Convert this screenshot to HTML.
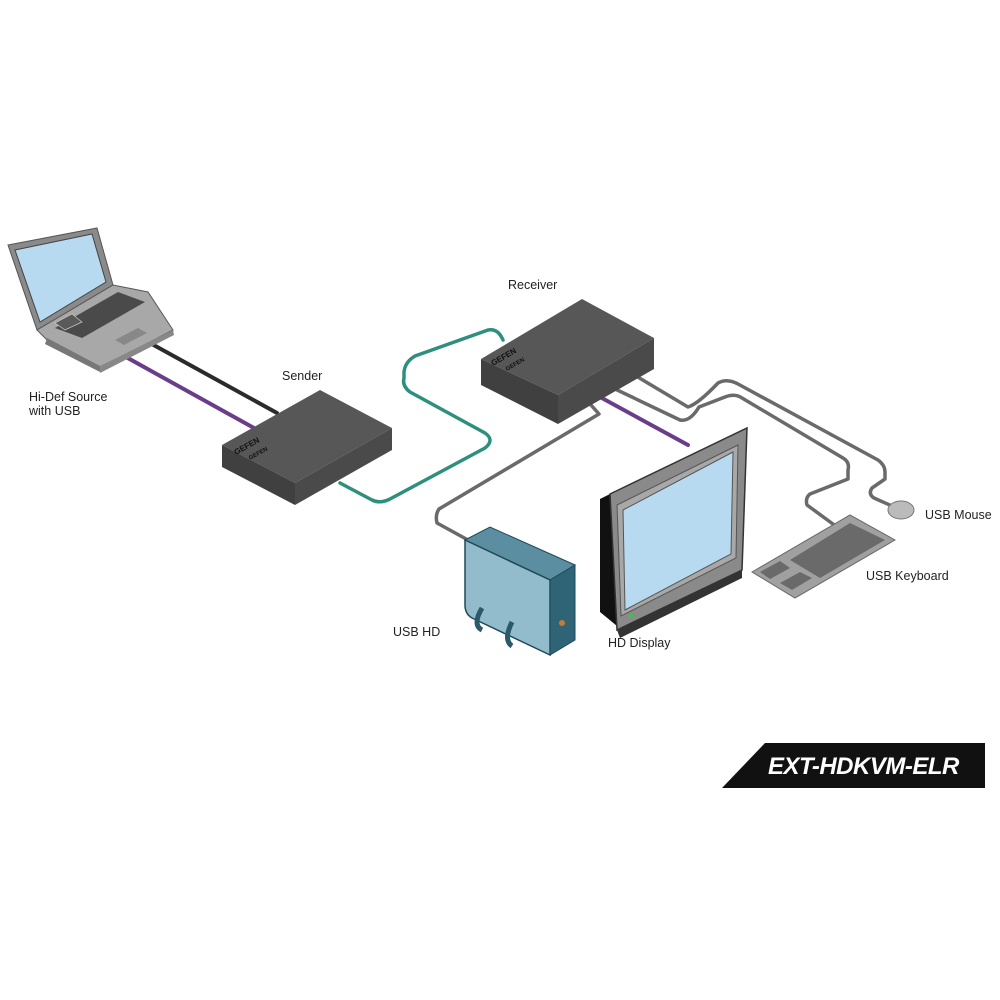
<!DOCTYPE html>
<html><head><meta charset="utf-8"><style>
html,body{margin:0;padding:0;background:#fff;}
svg{display:block}
text{font-family:"Liberation Sans",sans-serif;fill:#222;font-size:12.5px}
</style></head><body>
<svg width="1000" height="1000" viewBox="0 0 1000 1000" xmlns="http://www.w3.org/2000/svg">
<g fill="none" stroke-linecap="round" stroke-linejoin="round">
<!-- laptop cables -->
<path d="M150,343 L277,413" stroke="#2b2b2b" stroke-width="4"/>
<path d="M126,357 L254,428" stroke="#6a3d8a" stroke-width="4"/>
<!-- teal -->
<path d="M340,483 L372,500 Q380,504 390,499 L485,448 Q495,440 485,433 L410,392 Q402,386 404,378 L404,372 Q405,362 415,356 L488,330 Q498,328 503,340" stroke="#fff" stroke-width="6"/>
<path d="M340,483 L372,500 Q380,504 390,499 L485,448 Q495,440 485,433 L410,392 Q402,386 404,378 L404,372 Q405,362 415,356 L488,330 Q498,328 503,340" stroke="#2e8f7d" stroke-width="3.5"/>
</g>
<!-- laptop -->
<polygon points="8,245 97,228 113,285 37,330" fill="#8a8a8a" stroke="#555" stroke-width="1"/>
<polygon points="15,250 92,234 106,282 40,322" fill="#b8daf0" stroke="#444" stroke-width="1"/>
<polygon points="37,330 113,285 148,292 173,330 100,368 47,340" fill="#a8a8a8" stroke="#555"/>
<polygon points="47,338 100,366 100,372 45,344" fill="#777"/>
<polygon points="100,366 173,330 174,335 100,373" fill="#888"/>
<polygon points="55,328 118,292 145,302 82,338" fill="#4a4a4a"/>
<polygon points="55,323 72,314 82,322 65,330" fill="#5a5a5a" stroke="#ccc" stroke-width=".7"/>
<polygon points="115,340 138,328 147,333 124,345" fill="#888"/>
<!-- sender -->
<polygon points="222,445 320,390 392,428 295,483" fill="#575757"/>
<polygon points="222,445 295,483 295,505 222,467" fill="#404040"/>
<polygon points="295,483 392,428 392,450 295,505" fill="#4a4a4a"/>
<text x="0" y="0" transform="translate(236,455) rotate(-29)" style="font-size:8px;fill:#111;font-weight:bold">GEFEN</text>
<text x="0" y="0" transform="translate(250,460) rotate(-29)" style="font-size:6px;fill:#111;font-weight:bold">GEFEN</text>
<!-- receiver cables -->
<g fill="none" stroke-linecap="round" stroke-linejoin="round">
<path d="M591,405 L599,414 L439,509 Q435,515 437,523 L468,540" stroke="#fff" stroke-width="6"/>
<path d="M591,405 L599,414 L439,509 Q435,515 437,523 L468,540" stroke="#6a6a6a" stroke-width="3.5"/>
<path d="M600,397 L688,445" stroke="#6a3d8a" stroke-width="4"/>
<path d="M613,388 L680,420 Q690,422 699,407 L725,397 Q735,393 742,398 L843,458 Q850,462 848,470 L848,479 L810,494 Q805,498 807,505 L837,527" stroke="#fff" stroke-width="6"/>
<path d="M613,388 L680,420 Q690,422 699,407 L725,397 Q735,393 742,398 L843,458 Q850,462 848,470 L848,479 L810,494 Q805,498 807,505 L837,527" stroke="#6a6a6a" stroke-width="3.5"/>
<path d="M636,376 L688,407 Q698,404 718,383 Q727,378 738,384 L878,460 Q885,465 885,472 L885,479 L872,488 Q868,494 874,498 L892,506" stroke="#fff" stroke-width="6"/>
<path d="M636,376 L688,407 Q698,404 718,383 Q727,378 738,384 L878,460 Q885,465 885,472 L885,479 L872,488 Q868,494 874,498 L892,506" stroke="#6a6a6a" stroke-width="3.5"/>
</g>
<!-- receiver -->
<polygon points="481,359 582,299 654,338 558,395" fill="#575757"/>
<polygon points="481,359 558,395 558,424 481,385" fill="#404040"/>
<polygon points="558,395 654,338 654,369 558,424" fill="#4a4a4a"/>
<text x="0" y="0" transform="translate(493,366) rotate(-30)" style="font-size:8px;fill:#111;font-weight:bold">GEFEN</text>
<text x="0" y="0" transform="translate(507,371) rotate(-30)" style="font-size:6px;fill:#111;font-weight:bold">GEFEN</text>
<!-- monitor -->
<polygon points="600,499 610,494 617,626 600,612" fill="#111"/>
<polygon points="610,494 747,428 742,570 617,630" fill="#8a8a8a" stroke="#333" stroke-width="1.5"/>
<polygon points="617,505 738,445 736,558 621,616" fill="#a8a8a8" stroke="#555"/>
<polygon points="623,510 733,452 731,554 625,610" fill="#b8daf0" stroke="#555"/>
<polygon points="617,630 742,570 742,578 620,638" fill="#333"/>
<circle cx="631" cy="616" r="2" fill="#3c3"/>
<!-- USB HD -->
<polygon points="465,540 490,527 575,565 550,580" fill="#5a8ea0" stroke="#1e4a58"/>
<path d="M465,540 L550,580 L550,655 L472,618 Q465,614 465,605 Z" fill="#92bccb" stroke="#1e4a58" stroke-width="1.5"/>
<polygon points="550,580 575,565 575,640 550,655" fill="#2f6477" stroke="#1e4a58"/>
<circle cx="562" cy="623" r="3" fill="#c87a30"/>
<path d="M482,608 Q472,625 482,630 M512,622 Q503,640 512,646" stroke="#2a5a6a" stroke-width="5" fill="none"/>
<!-- keyboard & mouse -->
<polygon points="752,572 850,515 895,540 795,598" fill="#a0a0a0" stroke="#666"/>
<polygon points="790,560 850,523 885,540 820,578" fill="#6a6a6a"/>
<polygon points="760,572 780,561 790,568 770,579" fill="#6a6a6a"/>
<polygon points="780,583 800,572 812,578 792,590" fill="#6a6a6a"/>
<ellipse cx="901" cy="510" rx="13" ry="9" fill="#bbb" stroke="#777"/>
<!-- labels -->
<text x="29" y="401">Hi-Def Source</text>
<text x="29" y="415">with USB</text>
<text x="282" y="380">Sender</text>
<text x="508" y="289">Receiver</text>
<text x="393" y="636">USB HD</text>
<text x="608" y="647">HD Display</text>
<text x="925" y="519">USB Mouse</text>
<text x="866" y="580">USB Keyboard</text>
<!-- badge -->
<polygon points="722,788 765,743 985,743 985,788" fill="#111"/>
<text x="768" y="774" style="fill:#fff;font-size:24px;font-weight:bold;font-style:italic;letter-spacing:-0.5px">EXT-HDKVM-ELR</text>
</svg>
</body></html>
